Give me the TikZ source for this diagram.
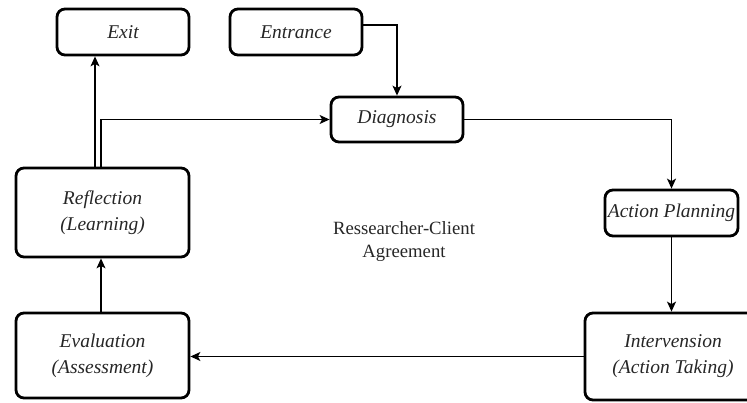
\documentclass[tikz,border=0pt]{standalone}
\usepackage{fontspec}
\setmainfont{Liberation Serif}
\usetikzlibrary{arrows.meta}
\begin{document}
\begin{tikzpicture}[x=1pt,y=-1pt,
  box/.style={draw=black,line width=2.8pt,rounded corners=8pt,fill=white,
    inner sep=0pt,align=center,font=\fontsize{19.5}{26}\selectfont\itshape,text=black!85},
  conn/.style={draw=black,line width=1.2pt,-{Stealth[length=10pt,width=9pt,inset=2.5pt]}},
  plain/.style={font=\fontsize{18.7}{23}\selectfont,align=center,text=black!85}]
\useasboundingbox (0,0) rectangle (747,403);
\clip (0,0) rectangle (747,403);
\node[box,minimum width=132,minimum height=46] (exit) at (123,32) {Exit};
\node[box,minimum width=132,minimum height=46] (entr) at (296,32) {Entrance};
\node[box,minimum width=132,minimum height=45] (diag) at (397,119.5) {Diagnosis};
\node[box,minimum width=173,minimum height=89] (refl) at (102.5,212.5) {Reflection\\(Learning)};
\node[box,minimum width=173,minimum height=85] (eval) at (102.5,355.5) {Evaluation\\(Assessment)};
\node[box,minimum width=133,minimum height=46] (plan) at (671.5,213) {Action Planning};
\node[box,minimum width=176,minimum height=87] (intv) at (673,356.5) {Intervension\\(Action Taking)};
\node[plain] (agree) at (404,242) {Ressearcher-Client\\Agreement};
\draw[conn] ([yshift=7pt]entr.east) -| (diag.north);
\draw[conn] (diag.east) -| (plan.north);
\draw[conn] (plan.south) -- (plan.south |- intv.north);
\draw[conn] (intv.west) -- (intv.west -| eval.east);
\draw[conn] ([xshift=-1.5pt]eval.north) -- ([xshift=-1.5pt]refl.south);
\draw[conn] ([xshift=-7.5pt]refl.north) -- ([xshift=-7.5pt]refl.north |- exit.south);
\draw[conn] ([xshift=-1.5pt]refl.north) |- (diag.west);
\end{tikzpicture}
\end{document}
